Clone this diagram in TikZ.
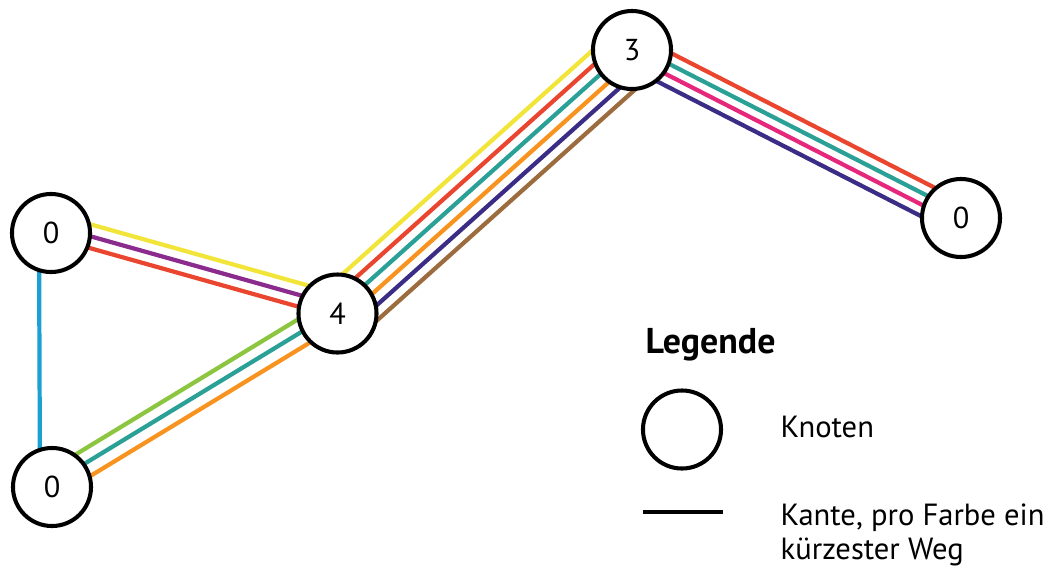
\documentclass[tikz,border=0pt]{standalone}
\usepackage{fontspec}
\setmainfont{PT Sans}
\usetikzlibrary{calc,backgrounds}

\definecolor{edgeyellow}{HTML}{F2E53A}
\definecolor{edgepurple}{HTML}{8B2B8E}
\definecolor{edgered}{HTML}{E9452F}
\definecolor{edgegreen}{HTML}{8CC540}
\definecolor{edgeteal}{HTML}{2AA096}
\definecolor{edgeorange}{HTML}{F7931E}
\definecolor{edgenavy}{HTML}{3B2C86}
\definecolor{edgebrown}{HTML}{9C6B3E}
\definecolor{edgemagenta}{HTML}{E5287B}
\definecolor{edgeblue}{HTML}{1AA0D2}

\tikzstyle{vertex}=[circle,draw,line width=1.15pt,fill=white,minimum size=0.78cm,inner sep=0pt,font=\fontsize{8.6}{10}\selectfont]
\tikzstyle{path edge}=[line width=1.2pt]
\tikzstyle{legend text}=[font=\fontsize{8.7}{9.6}\selectfont,inner sep=0pt]

\begin{document}
\begin{tikzpicture}[x=0.01cm,y=-0.01cm]
      \useasboundingbox (0,0) rectangle (1048,566);
      %nodes
      \foreach \nodename/\x/\y/\value in {
        a/51/233/0,
        b/52/487/0,
        c/337.5/313.5/4,
        d/632/50/3,
        e/961/218/0}
      {
        \node[vertex] (\nodename) at (\x,\y) {\value};
      };
      %edges, one colour per shortest path
      \begin{scope}[on background layer]
      \foreach \startnode/\endnode/\offset/\colour in {
        a/b/1.2/edgeblue,
        a/c/-1.9/edgeyellow, a/c/-0.75/edgepurple, a/c/0.4/edgered,
        b/c/-1.55/edgegreen, b/c/-0.3/edgeteal, b/c/1.05/edgeorange,
        c/d/-2.6/edgeyellow, c/d/-1.45/edgered, c/d/-0.3/edgeteal,
        c/d/0.85/edgeorange, c/d/2.0/edgenavy, c/d/3.15/edgebrown,
        d/e/-1.5/edgered, d/e/-0.45/edgeteal, d/e/0.6/edgemagenta, d/e/1.65/edgenavy}
      {
        \draw[path edge,\colour] ($(\startnode)!\offset mm!-90:(\endnode)$) -- ($(\endnode)!\offset mm!90:(\startnode)$);
      };
      \end{scope}
      %legend
      \node[legend text, font=\fontsize{10.2}{12}\selectfont\bfseries, anchor=base west] (legendtitle) at (645,353) {Legende};
      \node[vertex] (legendnode) at (682,429.5) {};
      \node[legend text, anchor=base west] (nodetext) at (780,437) {Knoten};
      \coordinate (linestart) at (643,512);
      \coordinate (lineend) at (723,512);
      \draw[line width=1.4pt] (linestart) -- (lineend);
      \node[legend text, anchor=north west, align=left] (edgetext) at (780,503) {Kante, pro Farbe ein\\kürzester Weg};
\end{tikzpicture}
\end{document}
